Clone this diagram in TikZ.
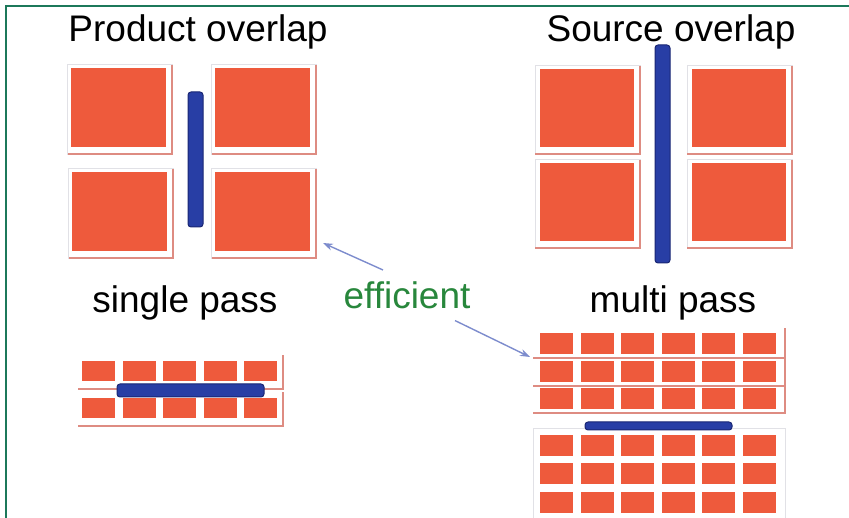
\documentclass[tikz,border=0pt]{standalone}
\usepackage{fontspec}
\setmainfont{Liberation Sans}
\usepackage{xcolor}
\usepackage{tikz}
\usetikzlibrary{arrows.meta}

\definecolor{tileorange}{RGB}{238,90,60}
\definecolor{sheetpink}{RGB}{222,140,130}
\definecolor{sheetgray}{RGB}{225,225,230}
\definecolor{barblue}{RGB}{40,62,165}
\definecolor{bardark}{RGB}{25,38,115}
\definecolor{arrowblue}{RGB}{125,140,205}
\definecolor{effgreen}{RGB}{40,135,60}
\definecolor{framegreen}{RGB}{28,120,90}

\begin{document}
\begin{tikzpicture}[x=1pt,y=-1pt,font=\fontsize{37}{44}\selectfont,
  tile/.style={fill=tileorange},
  sheet/.style={draw=sheetpink, line width=1.3pt},
  sheetedge/.style={draw=sheetgray, line width=0.8pt},
  bar/.style={fill=barblue, draw=bardark, line width=1pt, rounded corners=3pt},
  effarrow/.style={draw=arrowblue, line width=1.4pt, -{Stealth[length=10pt,width=7pt]}},
  title/.style={anchor=base, inner sep=0pt}]
\useasboundingbox (0,0) rectangle (849,518);
\draw[framegreen, line width=2pt] (849,6) -- (6,6) -- (6,518);

% titles
\node[title] (prodT) at (198,42) {Product overlap};
\node[title] (srcT) at (671,42) {Source overlap};
\node[title] (singleT) at (185,313) {single pass};
\node[title] (multiT) at (673,313) {multi pass};

% product overlap
\foreach \x/\y in {71/68,215/68,72/172,215/172} {
  \draw[sheetedge] (\x-4,\y-4) rectangle (\x+101,\y+86);
  \draw[sheet] (\x-3,\y+86) -- (\x+101,\y+86) -- (\x+101,\y-3);
  \fill[tile] (\x,\y) rectangle ++(95,79);
}
\draw[bar] (188,92) rectangle (203,227);

% source overlap
\foreach \x/\y in {540/69,692/69,540/163,692/163} {
  \draw[sheetedge] (\x-5,\y-4) rectangle (\x+100,\y+85);
  \draw[sheet] (\x-5,\y+85) -- (\x+100,\y+85) -- (\x+100,\y-3);
  \fill[tile] (\x,\y) rectangle ++(94,78);
}
\draw[bar] (655,45) rectangle (670,263);

% single pass
\foreach \y in {361,398} {
  \draw[sheet] (78,\y+28) -- (283,\y+28) -- (283,\y-6);
  \foreach \i in {0,...,4}
    \fill[tile] (82+40.5*\i,\y) rectangle ++(33,20);
}
\draw[bar] (117,384) rectangle (264,397);

% multi pass
\foreach \y in {333,361,388} {
  \draw[sheet] (533,\y+25) -- (785,\y+25) -- (785,\y-5);
  \foreach \i in {0,...,5}
    \fill[tile] (540+40.5*\i,\y) rectangle ++(33,21);
}
\draw[sheetedge] (533,518) -- (533,428) -- (785,428) -- (785,518);
\foreach \y in {435,463,492} {
  \foreach \i in {0,...,5}
    \fill[tile] (540+40.5*\i,\y) rectangle ++(33,21);
}
\draw[bar] (585,422) rectangle (732,430);

% efficient
\node[title, text=effgreen] (eff) at (407,309) {efficient};
\coordinate (prodTip) at (323,243);
\coordinate (multiTip) at (530,357);
\draw[effarrow] ([xshift=-24pt,yshift=12pt]eff.north) -- (prodTip);
\draw[effarrow] ([xshift=48pt,yshift=-11pt]eff.south) -- (multiTip);
\end{tikzpicture}
\end{document}
